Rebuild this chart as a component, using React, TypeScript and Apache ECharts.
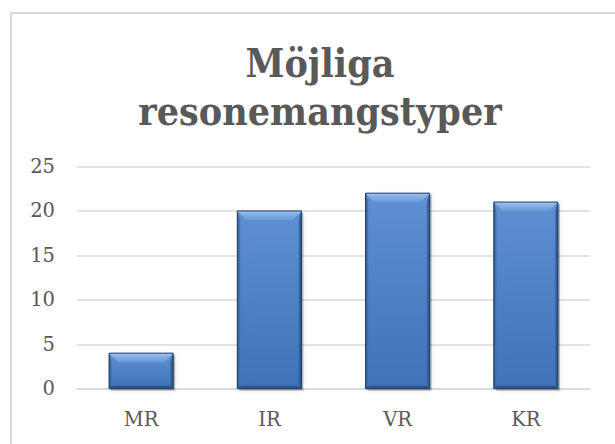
import React, { useEffect, useRef } from "react";
import * as echarts from "echarts";

const categories = ["MR", "IR", "VR", "KR"];
const values = [4, 20, 22, 21];
const yTicks = { min: 0, max: 25, interval: 5 };
const titleLines = ["Möjliga", "resonemangstyper"];

const FONT = "DejaVu Serif";
const TITLE_FONT = "'DejaVu Serif Condensed', 'DejaVu Serif'";
const GRAY = "#595959";

export default function App() {
  const ref = useRef<HTMLDivElement>(null);
  useEffect(() => {
    if (!ref.current) return;
    const chart = echarts.init(ref.current, undefined, { renderer: "svg" });
    const option: any = {
      animation: false,
      backgroundColor: "#ffffff",
      graphic: [
        {
          type: "rect",
          shape: { x: 11, y: 13, width: 700, height: 600 },
          style: { fill: "none", stroke: "#d9d9d9", lineWidth: 2 },
          silent: true,
        },
        {
          type: "text",
          x: 320,
          y: 39,
          style: {
            text: titleLines.join("\n"),
            align: "center",
            verticalAlign: "top",
            fontFamily: TITLE_FONT,
            fontWeight: "bold",
            fontSize: 39,
            lineHeight: 48,
            fill: GRAY,
          },
        },
      ],
      grid: { left: 77, right: 25, top: 166.5, bottom: 55.3, containLabel: false },
      xAxis: {
        type: "category",
        data: categories,
        axisLine: { lineStyle: { color: "#d9d9d9", width: 1.5 } },
        axisTick: { show: false },
        axisLabel: { color: GRAY, fontFamily: FONT, fontSize: 19.5, margin: 21 },
      },
      yAxis: {
        type: "value",
        min: yTicks.min,
        max: yTicks.max,
        interval: yTicks.interval,
        axisLine: { show: false },
        axisTick: { show: false },
        splitLine: { lineStyle: { color: "#d9d9d9", width: 1.5 } },
        axisLabel: { color: GRAY, fontFamily: FONT, fontSize: 19.5, margin: 22 },
      },
      series: [
        {
          type: "custom",
          data: values.map((v, i) => [i, v]),
          encode: { x: 0, y: 1 },
          renderItem: (params: any, api: any) => {
            const xi = api.value(0);
            const yv = api.value(1);
            const top = api.coord([xi, yv]);
            const base = api.coord([xi, 0]);
            const w = api.size([1, 0])[0] * 0.5;
            const l = top[0] - w / 2;
            const r = top[0] + w / 2;
            const t = top[1];
            const b = base[1];
            const h = b - t;
            const bv = Math.min(9, h / 3);
            const sd = 3;
            return {
              type: "group",
              children: [
                {
                  type: "rect",
                  shape: { x: l + 2, y: t + 2, width: w, height: h },
                  style: {
                    fill: "rgba(0,0,0,0.25)",
                    shadowBlur: 6,
                    shadowColor: "rgba(0,0,0,0.35)",
                  },
                },
                {
                  type: "rect",
                  shape: { x: l, y: t, width: w, height: h },
                  style: {
                    fill: new echarts.graphic.LinearGradient(0, 0, 0, 1, [
                      { offset: 0, color: "#5e90d3" },
                      { offset: 1, color: "#3f72b6" },
                    ]),
                  },
                },
                {
                  type: "polygon",
                  shape: { points: [[l, t], [l + sd, t + bv], [l + sd, b - sd], [l, b]] },
                  style: {
                    fill: new echarts.graphic.LinearGradient(0, 0, 1, 0, [
                      { offset: 0, color: "#2e5a92" },
                      { offset: 1, color: "rgba(70,115,180,0.6)" },
                    ]),
                  },
                },
                {
                  type: "polygon",
                  shape: { points: [[r, t], [r - sd, t + bv], [r - sd, b - sd], [r, b]] },
                  style: {
                    fill: new echarts.graphic.LinearGradient(1, 0, 0, 0, [
                      { offset: 0, color: "#24497a" },
                      { offset: 1, color: "rgba(60,100,160,0.6)" },
                    ]),
                  },
                },
                {
                  type: "polygon",
                  shape: { points: [[l, b], [l + sd, b - sd], [r - sd, b - sd], [r, b]] },
                  style: { fill: "#2c5487" },
                },
                {
                  type: "polygon",
                  shape: { points: [[l, t], [r, t], [r - bv, t + bv], [l + bv, t + bv]] },
                  style: {
                    fill: new echarts.graphic.LinearGradient(0, 0, 0, 1, [
                      { offset: 0, color: "#9cc3f0" },
                      { offset: 1, color: "#6897d6" },
                    ]),
                  },
                },
                {
                  type: "rect",
                  shape: { x: l, y: t, width: w, height: h },
                  style: { fill: "none", stroke: "#1f3d66", lineWidth: 1 },
                },
              ],
            };
          },
        },
      ],
    };
    chart.setOption(option);
    return () => chart.dispose();
  }, []);
  return (
    <div
      ref={ref}
      style={{ position: "fixed", left: 0, top: 0, width: 615, height: 444 }}
    />
  );
}
